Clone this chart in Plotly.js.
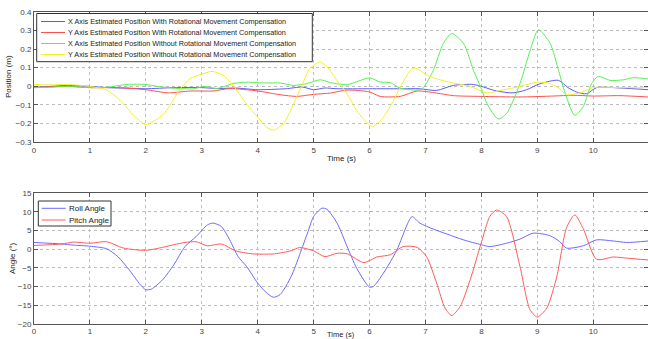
<!DOCTYPE html>
<html>
<head>
<meta charset="utf-8">
<script src="https://cdn.plot.ly/plotly-3.0.1.min.js"></script>
<style>html,body{margin:0;padding:0;background:#fff;}#chart{width:648px;height:339px;}</style>
</head>
<body>
<div id="chart"></div>
<script>
// ---- Data ----
const seriesNames = [
  "X Axis Estimated Position With Rotational Movement Compensation",
  "Y Axis Estimated Position With Rotational Movement Compensation",
  "X Axis Estimated Position Without Rotational Movement Compensation",
  "Y Axis Estimated Position Without Rotational Movement Compensation"
];
const angleNames = ["Roll Angle", "Pitch Angle"];

const xWithT = [0,0.3,0.6,1,1.3,1.7,2,2.5,3,3.3,3.6,4,4.5,4.8,5,5.2,5.42,6,6.55,6.9,7.2,7.5,7.86,8.04,8.27,8.57,8.81,9.05,9.38,9.55,9.7,9.88,10.06,10.48,10.98];
const xWith  = [-0.005,0,0.005,0,-0.007,-0.01,-0.013,-0.007,-0.007,-0.012,-0.009,-0.018,-0.013,-0.004,-0.018,-0.009,-0.013,-0.013,-0.013,-0.013,-0.022,0.005,0.01,-0.004,-0.025,-0.035,-0.018,0.014,0.032,-0.007,-0.03,-0.04,-0.007,-0.009,-0.018];

const yWithT = [0,0.6,1,1.5,2,2.4,2.8,3.2,3.5,4,4.4,4.7,5,5.3,5.6,6,6.19,6.55,6.85,7.2,7.5,8,8.69,9.29,9.64,10,10.48,10.98];
const yWith  = [-0.007,0,-0.007,-0.007,-0.018,-0.035,-0.025,-0.025,-0.012,-0.025,-0.045,-0.054,-0.043,-0.036,-0.02,-0.03,-0.054,-0.054,-0.025,-0.036,-0.05,-0.054,-0.057,-0.052,-0.048,-0.052,-0.05,-0.057];

const xWithoutT = [0,0.3,0.58,1,1.3,1.66,2,2.2,2.5,2.85,3.04,3.27,3.56,3.8,4.16,4.4,4.64,4.87,5.12,5.3,5.6,6.0,6.19,6.37,6.55,6.85,6.96,7.14,7.32,7.47,7.68,7.86,8.0,8.1,8.3,8.45,8.69,8.87,9.02,9.23,9.38,9.52,9.67,9.82,9.97,10.09,10.3,10.54,10.71,10.98];
const xWithout  = [-0.007,-0.005,0,-0.007,-0.005,0.01,0.01,0,-0.01,-0.013,0,-0.012,0.015,0.022,0.018,0.018,0.005,0.014,0.035,0.02,0.009,0.045,0.023,0.02,-0.01,-0.02,-0.007,0.085,0.23,0.283,0.23,0.085,-0.012,-0.093,-0.175,-0.146,0.014,0.19,0.303,0.23,0.085,-0.057,-0.155,-0.11,0.014,0.053,0.032,0.035,0.046,0.04];

const yWithoutT = [0,0.3,0.6,1,1.3,1.54,1.78,2.0,2.25,2.37,2.6,2.79,3.0,3.18,3.38,3.56,3.8,4.0,4.16,4.28,4.46,4.64,4.79,4.93,5.11,5.24,5.42,5.6,5.77,6.05,6.25,6.43,6.55,6.73,6.82,7.0,7.2,7.5,7.8,8.1,8.4,8.7,9.0,9.23,9.4,9.52,9.76,10.0,10.48,10.98];
const yWithout  = [0.01,0.008,0.01,0,-0.02,-0.075,-0.155,-0.205,-0.165,-0.13,-0.02,0.04,0.065,0.08,0.06,0.005,-0.095,-0.165,-0.22,-0.235,-0.2,-0.095,0.005,0.095,0.13,0.105,0.03,-0.04,-0.13,-0.215,-0.165,-0.075,-0.005,0.085,0.098,0.065,0.04,0.018,0.0,-0.035,-0.018,0,0.023,0.015,-0.012,-0.045,-0.035,-0.007,-0.007,-0.007];

const rollT = [0,0.5,0.7,1,1.3,1.5,1.7,1.9,2.0,2.1,2.3,2.5,2.7,2.9,3.1,3.2,3.35,3.5,3.65,3.8,4.0,4.15,4.28,4.4,4.6,4.75,4.9,5.0,5.15,5.24,5.42,5.6,5.77,6.0,6.07,6.25,6.49,6.67,6.76,6.9,7.14,7.38,7.68,8.0,8.15,8.45,8.69,8.93,9.23,9.4,9.52,9.82,10.06,10.36,10.6,10.98];
const roll  = [1.8,1.4,1.1,0.8,0.1,-2,-5.5,-9.5,-10.9,-10.7,-8.2,-4.2,0.7,3.4,6.5,7,6.1,2.5,-2,-4.6,-9.1,-11.6,-12.9,-12.2,-7.3,-1.5,4.7,8.75,11,10.7,7,0.7,-5.1,-10.2,-10,-6.4,-0.2,6.5,8.75,7,5.4,4.1,2.5,1.2,0.7,1.6,2.7,4.3,3.6,2.05,0.3,0.9,2.5,2.2,1.8,2.2];

const pitchT = [0,0.5,0.7,1,1.3,1.6,2,2.3,2.5,2.7,2.9,3.1,3.35,3.6,3.9,4.3,4.6,4.75,5.0,5.2,5.42,5.6,5.9,6.13,6.37,6.6,6.85,7.02,7.2,7.35,7.47,7.62,7.8,8.0,8.15,8.27,8.45,8.69,8.87,9.0,9.17,9.35,9.52,9.67,9.82,10.06,10.36,10.6,10.98];
const pitch  = [1.0,1.4,1.9,1.6,2.0,0.3,-0.3,0.5,1.2,1.8,2.0,0.9,1.4,-0.4,-1.25,-1.25,-0.4,0.45,-0.45,-2.0,-1.1,-1.25,-3.6,-2.1,-1.5,0.7,0.5,-2,-9.1,-15.8,-17.8,-15.4,-8.2,1.8,8.75,10.5,8.75,-4.6,-16.25,-18.2,-15.8,-7.3,5.6,9.2,5.6,-2.7,-2.1,-2.4,-2.9];

const posColors = ["#5a5aff", "#ff5050", "#55f055", "#f2f222"];
const angColors = ["#6a6aff", "#ff5a5a"];

// ---- Layout helpers (pixel -> paper) ----
const W = 648, H = 339, L = 34;
const px = x => (x - L) / (W - L);
const py = y => 1 - y / H;

const FONT = "Liberation Sans, Arial, sans-serif";
const line = {width: 1, shape: "spline", smoothing: 0.7};

const traces = [
  {x: xWithT, y: xWith, name: seriesNames[0], line: Object.assign({color: posColors[0]}, line), xaxis: "x", yaxis: "y"},
  {x: yWithT, y: yWith, name: seriesNames[1], line: Object.assign({color: posColors[1]}, line), xaxis: "x", yaxis: "y"},
  {x: xWithoutT, y: xWithout, name: seriesNames[2], line: Object.assign({color: posColors[2]}, line), xaxis: "x", yaxis: "y"},
  {x: yWithoutT, y: yWithout, name: seriesNames[3], line: Object.assign({color: posColors[3]}, line), xaxis: "x", yaxis: "y"},
  {x: rollT, y: roll, name: angleNames[0], line: Object.assign({color: angColors[0]}, line), xaxis: "x2", yaxis: "y2"},
  {x: pitchT, y: pitch, name: angleNames[1], line: Object.assign({color: angColors[1]}, line), xaxis: "x2", yaxis: "y2"}
].map(t => Object.assign({type: "scatter", mode: "lines", showlegend: false, hoverinfo: "skip"}, t));

const axisBase = {
  showline: true, linecolor: "#555", linewidth: 1, mirror: "ticks",
  ticks: "inside", ticklen: 4, tickcolor: "#555", tickwidth: 1,
  showgrid: true, gridcolor: "#bdbdbd", griddash: "dot", gridwidth: 1,
  zeroline: false, tickfont: {family: FONT, size: 8, color: "#444"}
};

const xBase = Object.assign({}, axisBase, {range: [0, 10.98], dtick: 1, tick0: 0, domain: [0, 1]});

// legend boxes (drawn as shapes + annotations)
const shapes = [];
const annotations = [];
function legendBox(x0, y0, x1, y1, rows, names, colors, lx0, lx1, tx, fs) {
  shapes.push({type: "rect", xref: "paper", yref: "paper", x0: px(x0), x1: px(x1), y0: py(y1), y1: py(y0),
    line: {color: "#333", width: 1}, fillcolor: "#fff", layer: "above"});
  names.forEach((n, i) => {
    shapes.push({type: "line", xref: "paper", yref: "paper", x0: px(lx0), x1: px(lx1), y0: py(rows[i]), y1: py(rows[i]),
      line: {color: colors[i], width: 1}, layer: "above"});
    annotations.push({xref: "paper", yref: "paper", x: px(tx), y: py(rows[i]), xanchor: "left", yanchor: "middle",
      text: n, showarrow: false, font: {family: FONT, size: fs, color: "#222"}});
  });
}
legendBox(36.7, 13.5, 312.3, 61.7, [21.5, 32.5, 43.5, 54.5], seriesNames, posColors, 41, 65, 65.5, 7.25);
legendBox(38.3, 201, 111, 226, [208.3, 220], angleNames, angColors, 41.7, 65.7, 67, 8);

// axis titles
annotations.push({xref: "paper", yref: "paper", x: px(8), y: py(77), text: "Position (m)", textangle: -90,
  showarrow: false, xanchor: "center", yanchor: "middle", font: {family: FONT, size: 8, color: "#222"}});
annotations.push({xref: "paper", yref: "paper", x: px(12), y: py(258), text: "Angle (°)", textangle: -90,
  showarrow: false, xanchor: "center", yanchor: "middle", font: {family: FONT, size: 8, color: "#222"}});
annotations.push({xref: "paper", yref: "paper", x: px(341), y: py(158), text: "Time (s)",
  showarrow: false, xanchor: "center", yanchor: "middle", font: {family: FONT, size: 8, color: "#222"}});
annotations.push({xref: "paper", yref: "paper", x: px(341), y: py(334.5), text: "Time (s)",
  showarrow: false, xanchor: "center", yanchor: "middle", font: {family: FONT, size: 7.5, color: "#222"}});

const layout = {
  width: W, height: H,
  margin: {l: L, r: 0, t: 0, b: 0, pad: 0},
  paper_bgcolor: "#fff", plot_bgcolor: "#fff",
  showlegend: false,
  font: {family: FONT, size: 8, color: "#333"},
  xaxis: Object.assign({}, xBase, {anchor: "y"}),
  yaxis: Object.assign({}, axisBase, {range: [-0.3, 0.4], dtick: 0.1, tick0: 0, domain: [py(142.3), py(11.7)], anchor: "x"}),
  xaxis2: Object.assign({}, xBase, {anchor: "y2"}),
  yaxis2: Object.assign({}, axisBase, {range: [-20, 15], dtick: 5, tick0: 0, domain: [py(323.7), py(193.3)], anchor: "x2"}),
  shapes: shapes,
  annotations: annotations
};

Plotly.newPlot("chart", traces, layout, {staticPlot: true, displayModeBar: false});
</script>
</body>
</html>
